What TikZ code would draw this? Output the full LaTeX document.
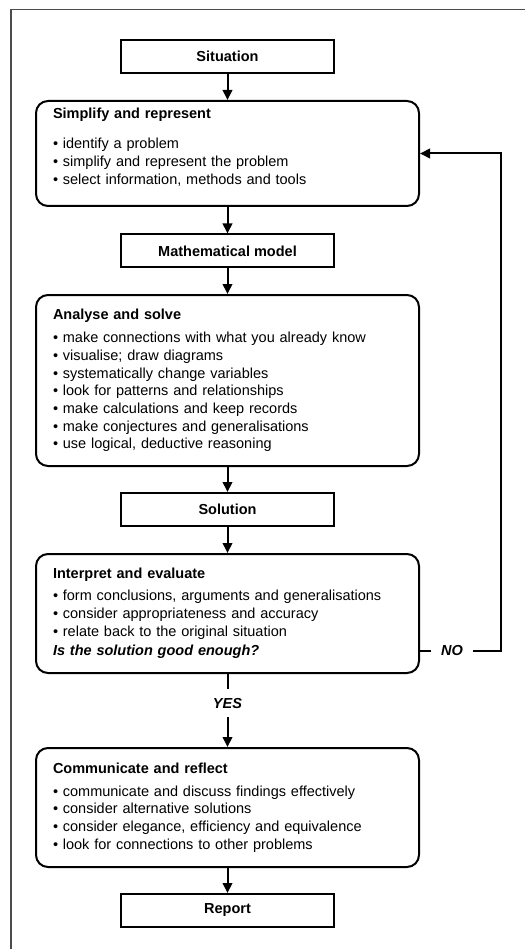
\documentclass[tikz,border=0pt]{standalone}
\usepackage{fontspec}
\setmainfont{Liberation Sans}
\usetikzlibrary{arrows.meta, positioning, calc}
\usepackage{xcolor}

\begin{document}
\begin{tikzpicture}[
    x=1pt, y=-1pt,
    stage/.style={draw, line width=2pt, minimum width=213pt, minimum height=33pt, inner sep=0pt, font=\fontsize{14.5}{17.7}\selectfont\bfseries},
    task/.style={draw, line width=2pt, rounded corners=12pt, text width=349pt, inner xsep=17pt, inner ysep=0pt, align=left, font=\fontsize{14.5}{17.7}\selectfont},
    flow/.style={-{Triangle[width=9.5pt, length=10pt]}, line width=2pt},
    answer/.style={fill=white, inner xsep=10pt, inner ysep=9pt, font=\fontsize{14.5}{17.7}\selectfont\bfseries\itshape},
    frame/.style={line width=1.5pt, black!70}
]
\def\xMid{227.5}

\useasboundingbox (0,0) rectangle (525,949);

% Page frame (top and left only)
\draw[frame] (525,9.5) -| (11,949);

% Stages and tasks
\node[stage] (sit) at (\xMid, 56.5) {Situation};

\node[task, minimum height=105pt] (simp) at (\xMid, 153.5) {\textbf{Simplify and represent}\\[13pt]
    \textbullet\ identify a problem\\
    \textbullet\ simplify and represent the problem\\
    \textbullet\ select information, methods and tools\rule[-15pt]{0pt}{0pt}};

\node[stage] (model) at (\xMid, 251) {Mathematical model};

\node[task, minimum height=171pt] (anal) at (\xMid, 380.5) {\textbf{Analyse and solve}\\[5.3pt]
    \textbullet\ make connections with what you already know\\
    \textbullet\ visualise; draw diagrams\\
    \textbullet\ systematically change variables\\
    \textbullet\ look for patterns and relationships\\
    \textbullet\ make calculations and keep records\\
    \textbullet\ make conjectures and generalisations\\
    \textbullet\ use logical, deductive reasoning};

\node[stage] (sol) at (\xMid, 509.5) {Solution};

\node[task, minimum height=119pt] (interp) at (\xMid, 613.5) {\textbf{Interpret and evaluate}\\[4.3pt]
    \textbullet\ form conclusions, arguments and generalisations\\
    \textbullet\ consider appropriateness and accuracy\\
    \textbullet\ relate back to the original situation\\[2pt]
    \textbf{\itshape Is the solution good enough?}};

\node[task, minimum height=119pt] (comm) at (\xMid, 807.5) {\textbf{Communicate and reflect}\\[5.3pt]
    \textbullet\ communicate and discuss findings effectively\\
    \textbullet\ consider alternative solutions\\
    \textbullet\ consider elegance, efficiency and equivalence\\
    \textbullet\ look for connections to other problems};

\node[stage] (rep) at (\xMid, 910.5) {Report};

% Main flow
\draw[flow] (sit) -- (simp);
\draw[flow] (simp) -- (model);
\draw[flow] (model) -- (anal);
\draw[flow] (anal) -- (sol);
\draw[flow] (sol) -- (interp);
\draw[flow] (interp) -- node[answer, pos=0.4] {YES} (comm);
\draw[flow] (comm) -- (rep);

% Loop back when not good enough
\draw[flow] ([yshift=23pt]interp.south east) -- node[answer, pos=0.395] {NO} ++(81,0) |- (simp.east);

\end{tikzpicture}
\end{document}
